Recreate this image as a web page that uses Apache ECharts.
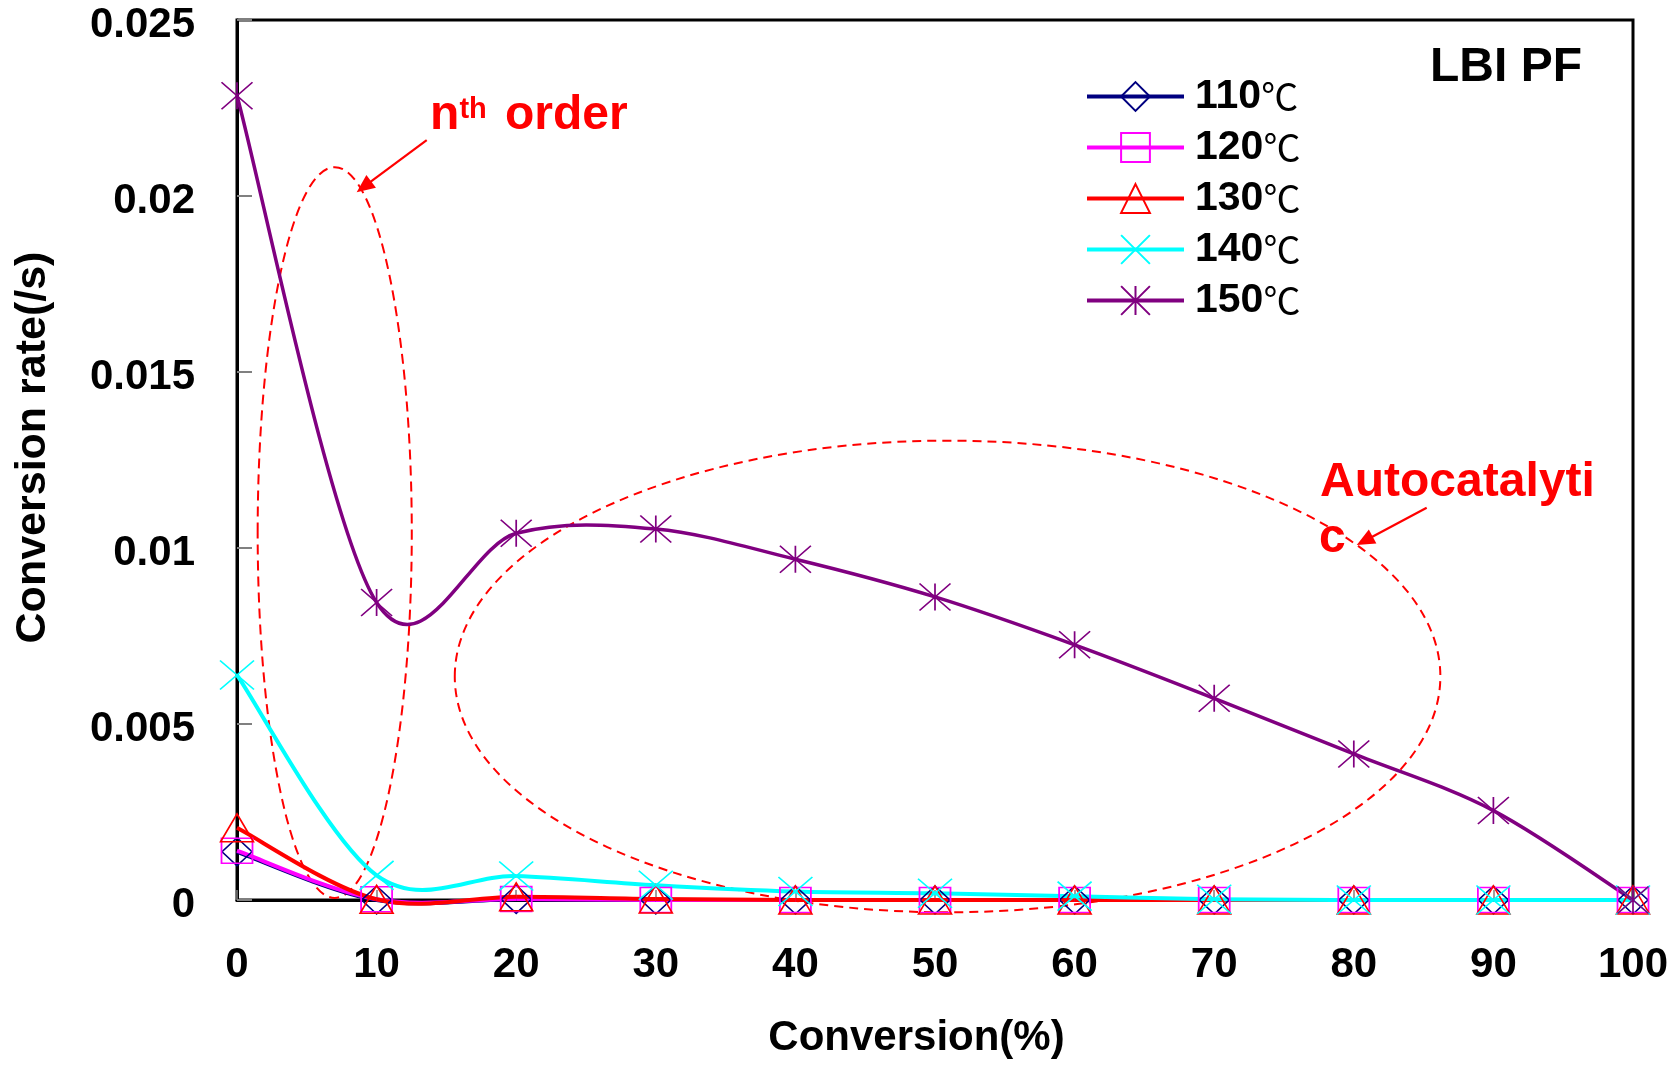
<!DOCTYPE html>
<html><head><meta charset="utf-8">
<script src="https://cdn.jsdelivr.net/npm/echarts@6/dist/echarts.min.js"></script>
<style>html,body{margin:0;padding:0;background:#fff}#c{width:1677px;height:1065px}</style>
</head><body><div id="c"></div>
<script>
// ---- data ----
const xValues = [0, 10, 20, 30, 40, 50, 60, 70, 80, 90, 100];
const seriesNames = ['110℃', '120℃', '130℃', '140℃', '150℃'];
const s110 = [0.00137, 0.00000, 0.00002, 0, 0, 0, 0, 0, 0, 0, 0];
const s120 = [0.00140, 0.00002, 0.00003, 0, 0, 0, 0, 0, 0, 0, 0];
const s130 = [0.00205, 0.00002, 0.00009, 0.00003, 0, 0, 0, 0, 0, 0, 0];
const s140 = [0.00639, 0.00070, 0.00068, 0.00042, 0.00024, 0.00019, 0.00011, 0.00002, 0, 0, 0];
const s150 = [0.02285, 0.00845, 0.01042, 0.01054, 0.00968, 0.00861, 0.00725, 0.00573, 0.00415, 0.00254, 0];
const yTickLabels = ['0', '0.005', '0.01', '0.015', '0.02', '0.025'];
const xTickLabels = ['0', '10', '20', '30', '40', '50', '60', '70', '80', '90', '100'];

const FONT = '"Liberation Sans", Arial, sans-serif';
const chart = echarts.init(document.getElementById('c'), null, { renderer: 'canvas' });

const styles = [
  { color: '#000080', symbol: 'diamond', size: [30, 28], lw: 4 },
  { color: '#FF00FF', symbol: 'rect', size: [31, 25], lw: 4 },
  { color: '#FF0000', symbol: 'triangle', size: [33, 28], lw: 4 },
  { color: '#00FFFF', symbol: 'path://M0 0L10 10M10 0L0 10', size: [34, 29], lw: 4 },
  { color: '#800080', symbol: 'path://M0 0L10 10M10 0L0 10M5 0L5 10', size: [31, 27], lw: 3.5 }
];
const allVals = [s110, s120, s130, s140, s150];

// smoothed curve (Excel-like Catmull-Rom bezier) drawn through the axis scales
function curveSeries(vals, st) {
  return {
    type: 'custom', coordinateSystem: 'cartesian2d', z: 2, silent: true,
    data: xValues.map((x, i) => [x, vals[i]]),
    encode: { x: 0, y: 1 },
    renderItem: (params, api) => {
      if (params.dataIndex !== 0) return null;
      const p = xValues.map((x, i) => api.coord([x, vals[i]]));
      const n = p.length, kids = [];
      for (let i = 0; i < n - 1; i++) {
        const p0 = p[Math.max(i - 1, 0)], p1 = p[i], p2 = p[i + 1], p3 = p[Math.min(i + 2, n - 1)];
        kids.push({ type: 'bezierCurve',
          shape: { x1: p1[0], y1: p1[1], x2: p2[0], y2: p2[1],
            cpx1: p1[0] + (p2[0] - p0[0]) / 6, cpy1: p1[1] + (p2[1] - p0[1]) / 6,
            cpx2: p2[0] - (p3[0] - p1[0]) / 6, cpy2: p2[1] - (p3[1] - p1[1]) / 6 },
          style: { stroke: st.color, lineWidth: st.lw, fill: 'none', lineJoin: 'round' } });
      }
      return { type: 'group', children: kids };
    }
  };
}
function markerSeries(name, vals, st) {
  return {
    name, type: 'line', z: 3, data: xValues.map((x, i) => [x, vals[i]]),
    symbol: st.symbol, symbolSize: st.size, clip: false,
    lineStyle: { color: st.color, width: st.lw, opacity: 0 },
    itemStyle: { color: 'rgba(0,0,0,0)', borderColor: st.color, borderWidth: 1.6 },
    emphasis: { disabled: true }
  };
}

const series = [];
allVals.forEach((v, i) => series.push(curveSeries(v, styles[i])));
allVals.forEach((v, i) => series.push(markerSeries(seriesNames[i], v, styles[i])));

chart.setOption({
  animation: false,
  backgroundColor: '#fff',
  grid: { left: 237, right: 44, top: 20, bottom: 165, show: true, borderColor: '#000', borderWidth: 3 },
  legend: {
    orient: 'vertical', left: 1085, top: 76, padding: 0, itemWidth: 97, itemHeight: 36, itemGap: 10,
    selectedMode: false,
    data: seriesNames.map((n, i) => ({ name: n, lineStyle: { color: styles[i].color, width: 4, opacity: 1 } })),
    formatter: n => '{b|' + n.replace('℃', '') + '}{c|℃}',
    textStyle: {
      rich: {
        b: { fontFamily: FONT, fontWeight: 'bold', fontSize: 41, lineHeight: 40, color: '#000', padding: [0, 0, 0, 6] },
        c: { fontFamily: '"Noto Sans CJK SC", sans-serif', fontWeight: 'normal', fontSize: 37, lineHeight: 40, color: '#000' }
      }
    }
  },
  xAxis: {
    type: 'value', min: 0, max: 100, interval: 10,
    name: 'Conversion(%)', nameLocation: 'middle', nameGap: 117,
    nameTextStyle: { fontFamily: FONT, fontWeight: 'bold', fontSize: 42, color: '#000', padding: [0, 37, 0, 0] },
    axisLine: { onZero: false, lineStyle: { color: '#000', width: 3 } },
    axisTick: { inside: true, length: 10, lineStyle: { color: '#808080', width: 1.5 } },
    axisLabel: { margin: 44, fontFamily: FONT, fontWeight: 'bold', fontSize: 42, color: '#000',
      formatter: (v) => xTickLabels[Math.round(v / 10)] },
    splitLine: { show: false }
  },
  yAxis: {
    type: 'value', min: 0, max: 0.025, interval: 0.005,
    name: 'Conversion rate(/s)', nameLocation: 'middle', nameGap: 182, nameRotate: 90,
    nameTextStyle: { fontFamily: FONT, fontWeight: 'bold', fontSize: 43, color: '#000', padding: [0, 0, 0, 25] },
    axisLine: { lineStyle: { color: '#000', width: 3 } },
    axisTick: { inside: true, length: 15, lineStyle: { color: '#808080', width: 2 } },
    axisLabel: { margin: 42, color: '#000',
      formatter: (v) => '{a|' + yTickLabels[Math.round(v / 0.005)] + '}',
      rich: { a: { fontFamily: FONT, fontWeight: 'bold', fontSize: 42, color: '#000', padding: [11, 0, 0, 0] } } },
    splitLine: { show: false }
  },
  series
});

// ---- annotations (anchored in data coordinates) ----
const nthEllipse = { cx: 7.0, cy: 0.01044, rx: 5.52, ry: 0.01038 };
const autoEllipse = { cx: 50.9, cy: 0.00635, rx: 35.3, ry: 0.0067 };
const nthArrow = { from: [13.59, 0.02159], to: [8.575, 0.02011] };
const autoArrow = { from: [85.22, 0.011145], to: [80.21, 0.010085] };
const texts = [
  { t: 'LBI PF', at: [85.46, 0.023634], size: 48, color: '#000' },
  { t: 'n', at: [13.825, 0.022278], size: 48, color: '#FF0000' },
  { t: 'th', at: [15.93, 0.022455], size: 29, color: '#FF0000' },
  { t: 'order', at: [19.2, 0.022278], size: 48, color: '#FF0000' },
  { t: 'Autocatalyti', at: [77.58, 0.011864], size: 48, color: '#FF0000' },
  { t: 'c', at: [77.51, 0.010264], size: 48, color: '#FF0000' }
];

function px(p) { return chart.convertToPixel({ gridIndex: 0 }, p); }
function ellipseEl(e, dash) {
  const c = px([e.cx, e.cy]);
  const r = px([e.cx + e.rx, e.cy + e.ry]);
  return { type: 'ellipse', silent: true, z: 1,
    shape: { cx: c[0], cy: c[1], rx: Math.abs(r[0] - c[0]), ry: Math.abs(r[1] - c[1]) },
    style: { fill: 'none', stroke: '#FF0000', lineWidth: 2, lineDash: dash } };
}
function arrowEls(a) {
  const p0 = px(a.from), p1 = px(a.to);
  const dx = p1[0] - p0[0], dy = p1[1] - p0[1];
  const L = Math.hypot(dx, dy), ux = dx / L, uy = dy / L, nx = -uy, ny = ux;
  const hl = 18, hw = 8;
  const bx = p1[0] - ux * hl, by = p1[1] - uy * hl;
  return [
    { type: 'line', silent: true, z: 10, shape: { x1: p0[0], y1: p0[1], x2: bx + ux * 3, y2: by + uy * 3 },
      style: { stroke: '#FF0000', lineWidth: 2.2 } },
    { type: 'polygon', silent: true, z: 10,
      shape: { points: [[p1[0], p1[1]], [bx + nx * hw, by + ny * hw], [bx - nx * hw, by - ny * hw]] },
      style: { fill: '#FF0000' } }
  ];
}
const g = [ellipseEl(nthEllipse, [10, 6]), ellipseEl(autoEllipse, [9, 6])]
  .concat(arrowEls(nthArrow), arrowEls(autoArrow));
texts.forEach(o => {
  const p = px(o.at);
  g.push({ type: 'text', silent: true, z: 10, x: p[0], y: p[1],
    style: { text: o.t, fill: o.color, fontFamily: FONT, fontWeight: 'bold', fontSize: o.size,
      align: 'left', verticalAlign: 'middle' } });
});
chart.setOption({ graphic: g });
</script>
</body></html>
